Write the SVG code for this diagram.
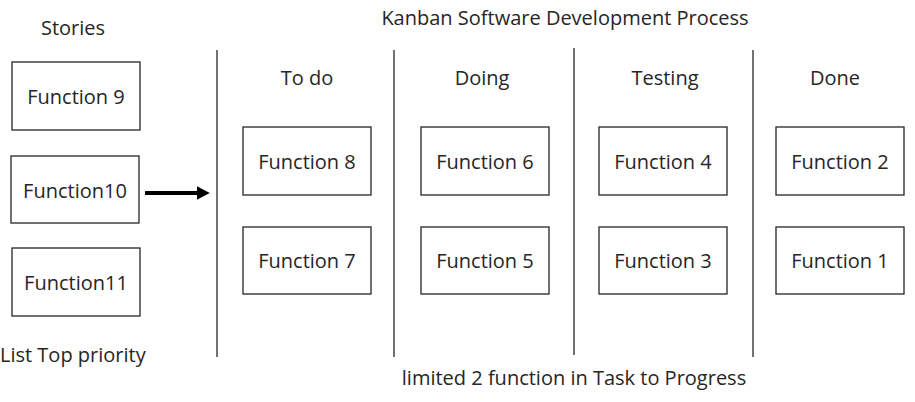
<svg xmlns="http://www.w3.org/2000/svg" width="915" height="402" viewBox="0 0 915 402">
<style>
text{font-family:"Open Sans","Noto Sans","Liberation Sans",sans-serif;font-size:20px;fill:#262626;text-anchor:middle}
.box{fill:#fff;stroke:#262626;stroke-width:1.3}
.sep{stroke:#262626;stroke-width:1.3}
</style>
<defs>
<marker id="ah" markerWidth="4" markerHeight="4" refX="2" refY="2" orient="auto" markerUnits="strokeWidth"><path d="M0,0.3 L3.2,2 L0,3.7 z" fill="#000"/></marker>
</defs>
<rect width="915" height="402" fill="#fff"/>
<text x="73" y="35">Stories</text>
<text x="565" y="25">Kanban Software Development Process</text>
<text x="307" y="85">To do</text>
<text x="482" y="85">Doing</text>
<text x="665" y="85">Testing</text>
<text x="835" y="85">Done</text>
<text x="0" y="362" style="text-anchor:start">List Top priority</text>
<text x="574" y="385">limited 2 function in Task to Progress</text>
<g id="separators">
<line class="sep" x1="217" y1="50" x2="217" y2="357"/>
<line class="sep" x1="394" y1="50" x2="394" y2="357"/>
<line class="sep" x1="574" y1="48" x2="574" y2="355"/>
<line class="sep" x1="753" y1="50" x2="753" y2="357"/>
</g>
<g id="n9"><rect class="box" x="12" y="62" width="128" height="68"/><text x="76" y="104">Function 9</text></g>
<g id="n10"><rect class="box" x="11" y="156" width="128" height="67"/><text x="75" y="198">Function10</text></g>
<g id="n11"><rect class="box" x="12" y="248" width="128" height="68"/><text x="76" y="290">Function11</text></g>
<g id="n8"><rect class="box" x="243" y="127" width="128" height="68"/><text x="307" y="169">Function 8</text></g>
<g id="n7"><rect class="box" x="243" y="227" width="128" height="67"/><text x="307" y="268">Function 7</text></g>
<g id="n6"><rect class="box" x="421" y="127" width="128" height="68"/><text x="485" y="169">Function 6</text></g>
<g id="n5"><rect class="box" x="421" y="227" width="128" height="67"/><text x="485" y="268">Function 5</text></g>
<g id="n4"><rect class="box" x="599" y="127" width="128" height="68"/><text x="663" y="169">Function 4</text></g>
<g id="n3"><rect class="box" x="599" y="227" width="128" height="67"/><text x="663" y="268">Function 3</text></g>
<g id="n2"><rect class="box" x="776" y="127" width="128" height="68"/><text x="840" y="169">Function 2</text></g>
<g id="n1"><rect class="box" x="776" y="227" width="128" height="67"/><text x="840" y="268">Function 1</text></g>
<g id="connectors">
<line x1="145" y1="193" x2="205" y2="193" stroke="#000" stroke-width="4" marker-end="url(#ah)"/>
</g>
</svg>
